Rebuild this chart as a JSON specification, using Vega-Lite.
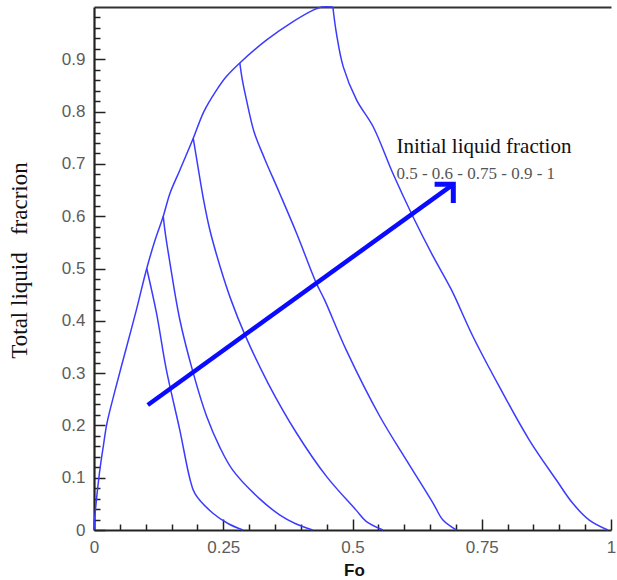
{
  "$schema": "https://vega.github.io/schema/vega-lite/v6.json",
  "width": 517,
  "height": 523,
  "autosize": {"type": "none"},
  "padding": {"left": 94, "top": 7, "right": 6, "bottom": 50},
  "background": "white",
  "config": {
    "view": {"stroke": null},
    "axis": {
      "grid": false,
      "labelFont": "Liberation Sans",
      "labelFontSize": 17,
      "labelColor": "#5c5c5c",
      "labelFlush": false,
      "labelOverlap": false,
      "domainColor": "#222222",
      "domainWidth": 2.2,
      "tickColor": "#222222",
      "tickWidth": 1.5
    }
  },
  "datasets": {
    "curves": [
      {"curve": "envelope", "i": 0, "fo": 0, "lf": 0},
      {"curve": "envelope", "i": 1, "fo": 0.002, "lf": 0.03},
      {"curve": "envelope", "i": 2, "fo": 0.006, "lf": 0.07},
      {"curve": "envelope", "i": 3, "fo": 0.012, "lf": 0.12},
      {"curve": "envelope", "i": 4, "fo": 0.018, "lf": 0.16},
      {"curve": "envelope", "i": 5, "fo": 0.025, "lf": 0.204},
      {"curve": "envelope", "i": 6, "fo": 0.041, "lf": 0.268},
      {"curve": "envelope", "i": 7, "fo": 0.063, "lf": 0.35},
      {"curve": "envelope", "i": 8, "fo": 0.082, "lf": 0.421},
      {"curve": "envelope", "i": 9, "fo": 0.102, "lf": 0.5},
      {"curve": "envelope", "i": 10, "fo": 0.118, "lf": 0.554},
      {"curve": "envelope", "i": 11, "fo": 0.134, "lf": 0.6},
      {"curve": "envelope", "i": 12, "fo": 0.147, "lf": 0.644},
      {"curve": "envelope", "i": 13, "fo": 0.166, "lf": 0.688},
      {"curve": "envelope", "i": 14, "fo": 0.192, "lf": 0.749},
      {"curve": "envelope", "i": 15, "fo": 0.2125, "lf": 0.8},
      {"curve": "envelope", "i": 16, "fo": 0.237, "lf": 0.841},
      {"curve": "envelope", "i": 17, "fo": 0.256, "lf": 0.867},
      {"curve": "envelope", "i": 18, "fo": 0.282, "lf": 0.893},
      {"curve": "envelope", "i": 19, "fo": 0.334, "lf": 0.937},
      {"curve": "envelope", "i": 20, "fo": 0.385, "lf": 0.972},
      {"curve": "envelope", "i": 21, "fo": 0.424, "lf": 0.994},
      {"curve": "envelope", "i": 22, "fo": 0.44, "lf": 1.0},
      {"curve": "envelope", "i": 23, "fo": 0.462, "lf": 1.0},

      {"curve": "0.5", "i": 0, "fo": 0.102, "lf": 0.5},
      {"curve": "0.5", "i": 1, "fo": 0.121, "lf": 0.414},
      {"curve": "0.5", "i": 2, "fo": 0.14, "lf": 0.306},
      {"curve": "0.5", "i": 3, "fo": 0.166, "lf": 0.191},
      {"curve": "0.5", "i": 4, "fo": 0.185, "lf": 0.1},
      {"curve": "0.5", "i": 5, "fo": 0.195, "lf": 0.07},
      {"curve": "0.5", "i": 6, "fo": 0.23, "lf": 0.032},
      {"curve": "0.5", "i": 7, "fo": 0.26, "lf": 0.012},
      {"curve": "0.5", "i": 8, "fo": 0.288, "lf": 0},

      {"curve": "0.6", "i": 0, "fo": 0.134, "lf": 0.6},
      {"curve": "0.6", "i": 1, "fo": 0.137, "lf": 0.574},
      {"curve": "0.6", "i": 2, "fo": 0.147, "lf": 0.51},
      {"curve": "0.6", "i": 3, "fo": 0.166, "lf": 0.402},
      {"curve": "0.6", "i": 4, "fo": 0.192, "lf": 0.3},
      {"curve": "0.6", "i": 5, "fo": 0.218, "lf": 0.217},
      {"curve": "0.6", "i": 6, "fo": 0.243, "lf": 0.159},
      {"curve": "0.6", "i": 7, "fo": 0.268, "lf": 0.115},
      {"curve": "0.6", "i": 8, "fo": 0.32, "lf": 0.06},
      {"curve": "0.6", "i": 9, "fo": 0.359, "lf": 0.029},
      {"curve": "0.6", "i": 10, "fo": 0.39, "lf": 0.012},
      {"curve": "0.6", "i": 11, "fo": 0.423, "lf": 0},

      {"curve": "0.75", "i": 0, "fo": 0.192, "lf": 0.749},
      {"curve": "0.75", "i": 1, "fo": 0.201, "lf": 0.695},
      {"curve": "0.75", "i": 2, "fo": 0.212, "lf": 0.631},
      {"curve": "0.75", "i": 3, "fo": 0.224, "lf": 0.574},
      {"curve": "0.75", "i": 4, "fo": 0.245, "lf": 0.5},
      {"curve": "0.75", "i": 5, "fo": 0.265, "lf": 0.44},
      {"curve": "0.75", "i": 6, "fo": 0.292, "lf": 0.373},
      {"curve": "0.75", "i": 7, "fo": 0.337, "lf": 0.28},
      {"curve": "0.75", "i": 8, "fo": 0.392, "lf": 0.185},
      {"curve": "0.75", "i": 9, "fo": 0.45, "lf": 0.102},
      {"curve": "0.75", "i": 10, "fo": 0.507, "lf": 0.038},
      {"curve": "0.75", "i": 11, "fo": 0.527, "lf": 0.016},
      {"curve": "0.75", "i": 12, "fo": 0.559, "lf": 0},

      {"curve": "0.9", "i": 0, "fo": 0.282, "lf": 0.893},
      {"curve": "0.9", "i": 1, "fo": 0.287, "lf": 0.86},
      {"curve": "0.9", "i": 2, "fo": 0.295, "lf": 0.822},
      {"curve": "0.9", "i": 3, "fo": 0.31, "lf": 0.76},
      {"curve": "0.9", "i": 4, "fo": 0.33, "lf": 0.71},
      {"curve": "0.9", "i": 5, "fo": 0.359, "lf": 0.644},
      {"curve": "0.9", "i": 6, "fo": 0.392, "lf": 0.567},
      {"curve": "0.9", "i": 7, "fo": 0.43, "lf": 0.472},
      {"curve": "0.9", "i": 8, "fo": 0.446, "lf": 0.44},
      {"curve": "0.9", "i": 9, "fo": 0.488, "lf": 0.344},
      {"curve": "0.9", "i": 10, "fo": 0.553, "lf": 0.217},
      {"curve": "0.9", "i": 11, "fo": 0.604, "lf": 0.134},
      {"curve": "0.9", "i": 12, "fo": 0.656, "lf": 0.051},
      {"curve": "0.9", "i": 13, "fo": 0.675, "lf": 0.019},
      {"curve": "0.9", "i": 14, "fo": 0.701, "lf": 0},

      {"curve": "1", "i": 0, "fo": 0.462, "lf": 1.0},
      {"curve": "1", "i": 1, "fo": 0.469, "lf": 0.949},
      {"curve": "1", "i": 2, "fo": 0.482, "lf": 0.886},
      {"curve": "1", "i": 3, "fo": 0.508, "lf": 0.822},
      {"curve": "1", "i": 4, "fo": 0.54, "lf": 0.771},
      {"curve": "1", "i": 5, "fo": 0.578, "lf": 0.682},
      {"curve": "1", "i": 6, "fo": 0.617, "lf": 0.599},
      {"curve": "1", "i": 7, "fo": 0.656, "lf": 0.523},
      {"curve": "1", "i": 8, "fo": 0.691, "lf": 0.46},
      {"curve": "1", "i": 9, "fo": 0.733, "lf": 0.37},
      {"curve": "1", "i": 10, "fo": 0.784, "lf": 0.274},
      {"curve": "1", "i": 11, "fo": 0.842, "lf": 0.172},
      {"curve": "1", "i": 12, "fo": 0.894, "lf": 0.096},
      {"curve": "1", "i": 13, "fo": 0.926, "lf": 0.051},
      {"curve": "1", "i": 14, "fo": 0.958, "lf": 0.019},
      {"curve": "1", "i": 15, "fo": 0.994, "lf": 0}
    ],
    "arrow": [
      {"i": 0, "fo": 0.104, "lf": 0.239},
      {"i": 1, "fo": 0.692, "lf": 0.659}
    ],
    "tip": [
      {"fo": 0.695, "lf": 0.661}
    ],
    "label1": [
      {"fo": 0.585, "lf": 0.721, "text": "Initial liquid fraction"}
    ],
    "label2": [
      {"fo": 0.585, "lf": 0.671, "text": "0.5 - 0.6 - 0.75 - 0.9 - 1"}
    ]
  },
  "layer": [
    {
      "data": {"name": "curves"},
      "mark": {"type": "line", "color": "#3b3bff", "strokeWidth": 1.5, "interpolate": "catmull-rom"},
      "encoding": {
        "x": {
          "field": "fo", "type": "quantitative",
          "scale": {"domain": [0, 1], "nice": false, "zero": false},
          "axis": {
            "orient": "bottom",
            "values": [0, 0.25, 0.5, 0.75, 1],
            "format": ".2~f",
            "tickSize": -11,
            "labelPadding": 20,
            "title": "Fo",
            "titleFont": "Liberation Sans",
            "titleFontWeight": "bold",
            "titleFontSize": 17,
            "titleColor": "#111111",
            "titleX": 260,
            "titleY": 40,
            "titleAlign": "center",
            "titleBaseline": "middle"
          }
        },
        "y": {
          "field": "lf", "type": "quantitative",
          "scale": {"domain": [0, 1], "nice": false, "zero": false},
          "axis": {
            "orient": "left",
            "values": [0, 0.1, 0.2, 0.3, 0.4, 0.5, 0.6, 0.7, 0.8, 0.9],
            "format": ".1~f",
            "tickSize": -11,
            "labelPadding": 20,
            "title": "Total liquid\u00a0\u00a0 fracrion",
            "titleFont": "Liberation Serif",
            "titleFontWeight": "normal",
            "titleFontSize": 23,
            "titleColor": "#111111",
            "titleAngle": 270,
            "titleX": -75,
            "titleY": 253,
            "titleAlign": "center",
            "titleBaseline": "middle"
          }
        },
        "detail": {"field": "curve", "type": "nominal"},
        "order": {"field": "i", "type": "quantitative"}
      }
    },
    {
      "data": {"name": "arrow"},
      "mark": {"type": "line", "color": "#0a0aff", "strokeWidth": 4.5, "strokeCap": "butt"},
      "encoding": {
        "x": {
          "field": "fo", "type": "quantitative",
          "axis": {
            "orient": "bottom",
            "values": [0.05, 0.1, 0.15, 0.2, 0.3, 0.35, 0.4, 0.45, 0.55, 0.6, 0.65, 0.7, 0.8, 0.85, 0.9, 0.95],
            "labels": false,
            "domain": false,
            "tickSize": -6,
            "title": null
          }
        },
        "y": {
          "field": "lf", "type": "quantitative",
          "axis": {
            "orient": "left",
            "values": [0.02, 0.04, 0.06, 0.08, 0.12, 0.14, 0.16, 0.18, 0.22, 0.24, 0.26, 0.28, 0.32, 0.34, 0.36, 0.38, 0.42, 0.44, 0.46, 0.48, 0.52, 0.54, 0.56, 0.58, 0.62, 0.64, 0.66, 0.68, 0.72, 0.74, 0.76, 0.78, 0.82, 0.84, 0.86, 0.88, 0.92, 0.94, 0.96, 0.98],
            "labels": false,
            "domain": false,
            "tickSize": -6,
            "title": null
          }
        },
        "order": {"field": "i", "type": "quantitative"}
      }
    },
    {
      "data": {"name": "tip"},
      "mark": {
        "type": "point",
        "shape": "M -1 -1 L 0 0 L -1 1",
        "filled": false,
        "stroke": "#0a0aff",
        "strokeWidth": 5,
        "strokeJoin": "miter",
        "size": 700,
        "angle": 315,
        "opacity": 1
      },
      "encoding": {
        "x": {
          "field": "fo", "type": "quantitative",
          "axis": {
            "orient": "top",
            "labels": false,
            "ticks": false,
            "domain": true,
            "domainColor": "#333333",
            "domainWidth": 2,
            "title": null
          }
        },
        "y": {"field": "lf", "type": "quantitative", "axis": null}
      }
    },
    {
      "data": {"name": "label1"},
      "mark": {
        "type": "text",
        "font": "Liberation Serif",
        "fontSize": 21,
        "color": "#111111",
        "align": "left",
        "baseline": "alphabetic"
      },
      "encoding": {
        "x": {"field": "fo", "type": "quantitative", "axis": null},
        "y": {"field": "lf", "type": "quantitative", "axis": null},
        "text": {"field": "text"}
      }
    },
    {
      "data": {"name": "label2"},
      "mark": {
        "type": "text",
        "font": "Liberation Serif",
        "fontSize": 17,
        "color": "#555555",
        "align": "left",
        "baseline": "alphabetic"
      },
      "encoding": {
        "x": {"field": "fo", "type": "quantitative", "axis": null},
        "y": {"field": "lf", "type": "quantitative", "axis": null},
        "text": {"field": "text"}
      }
    }
  ],
  "resolve": {"axis": {"x": "independent", "y": "independent"}}
}
